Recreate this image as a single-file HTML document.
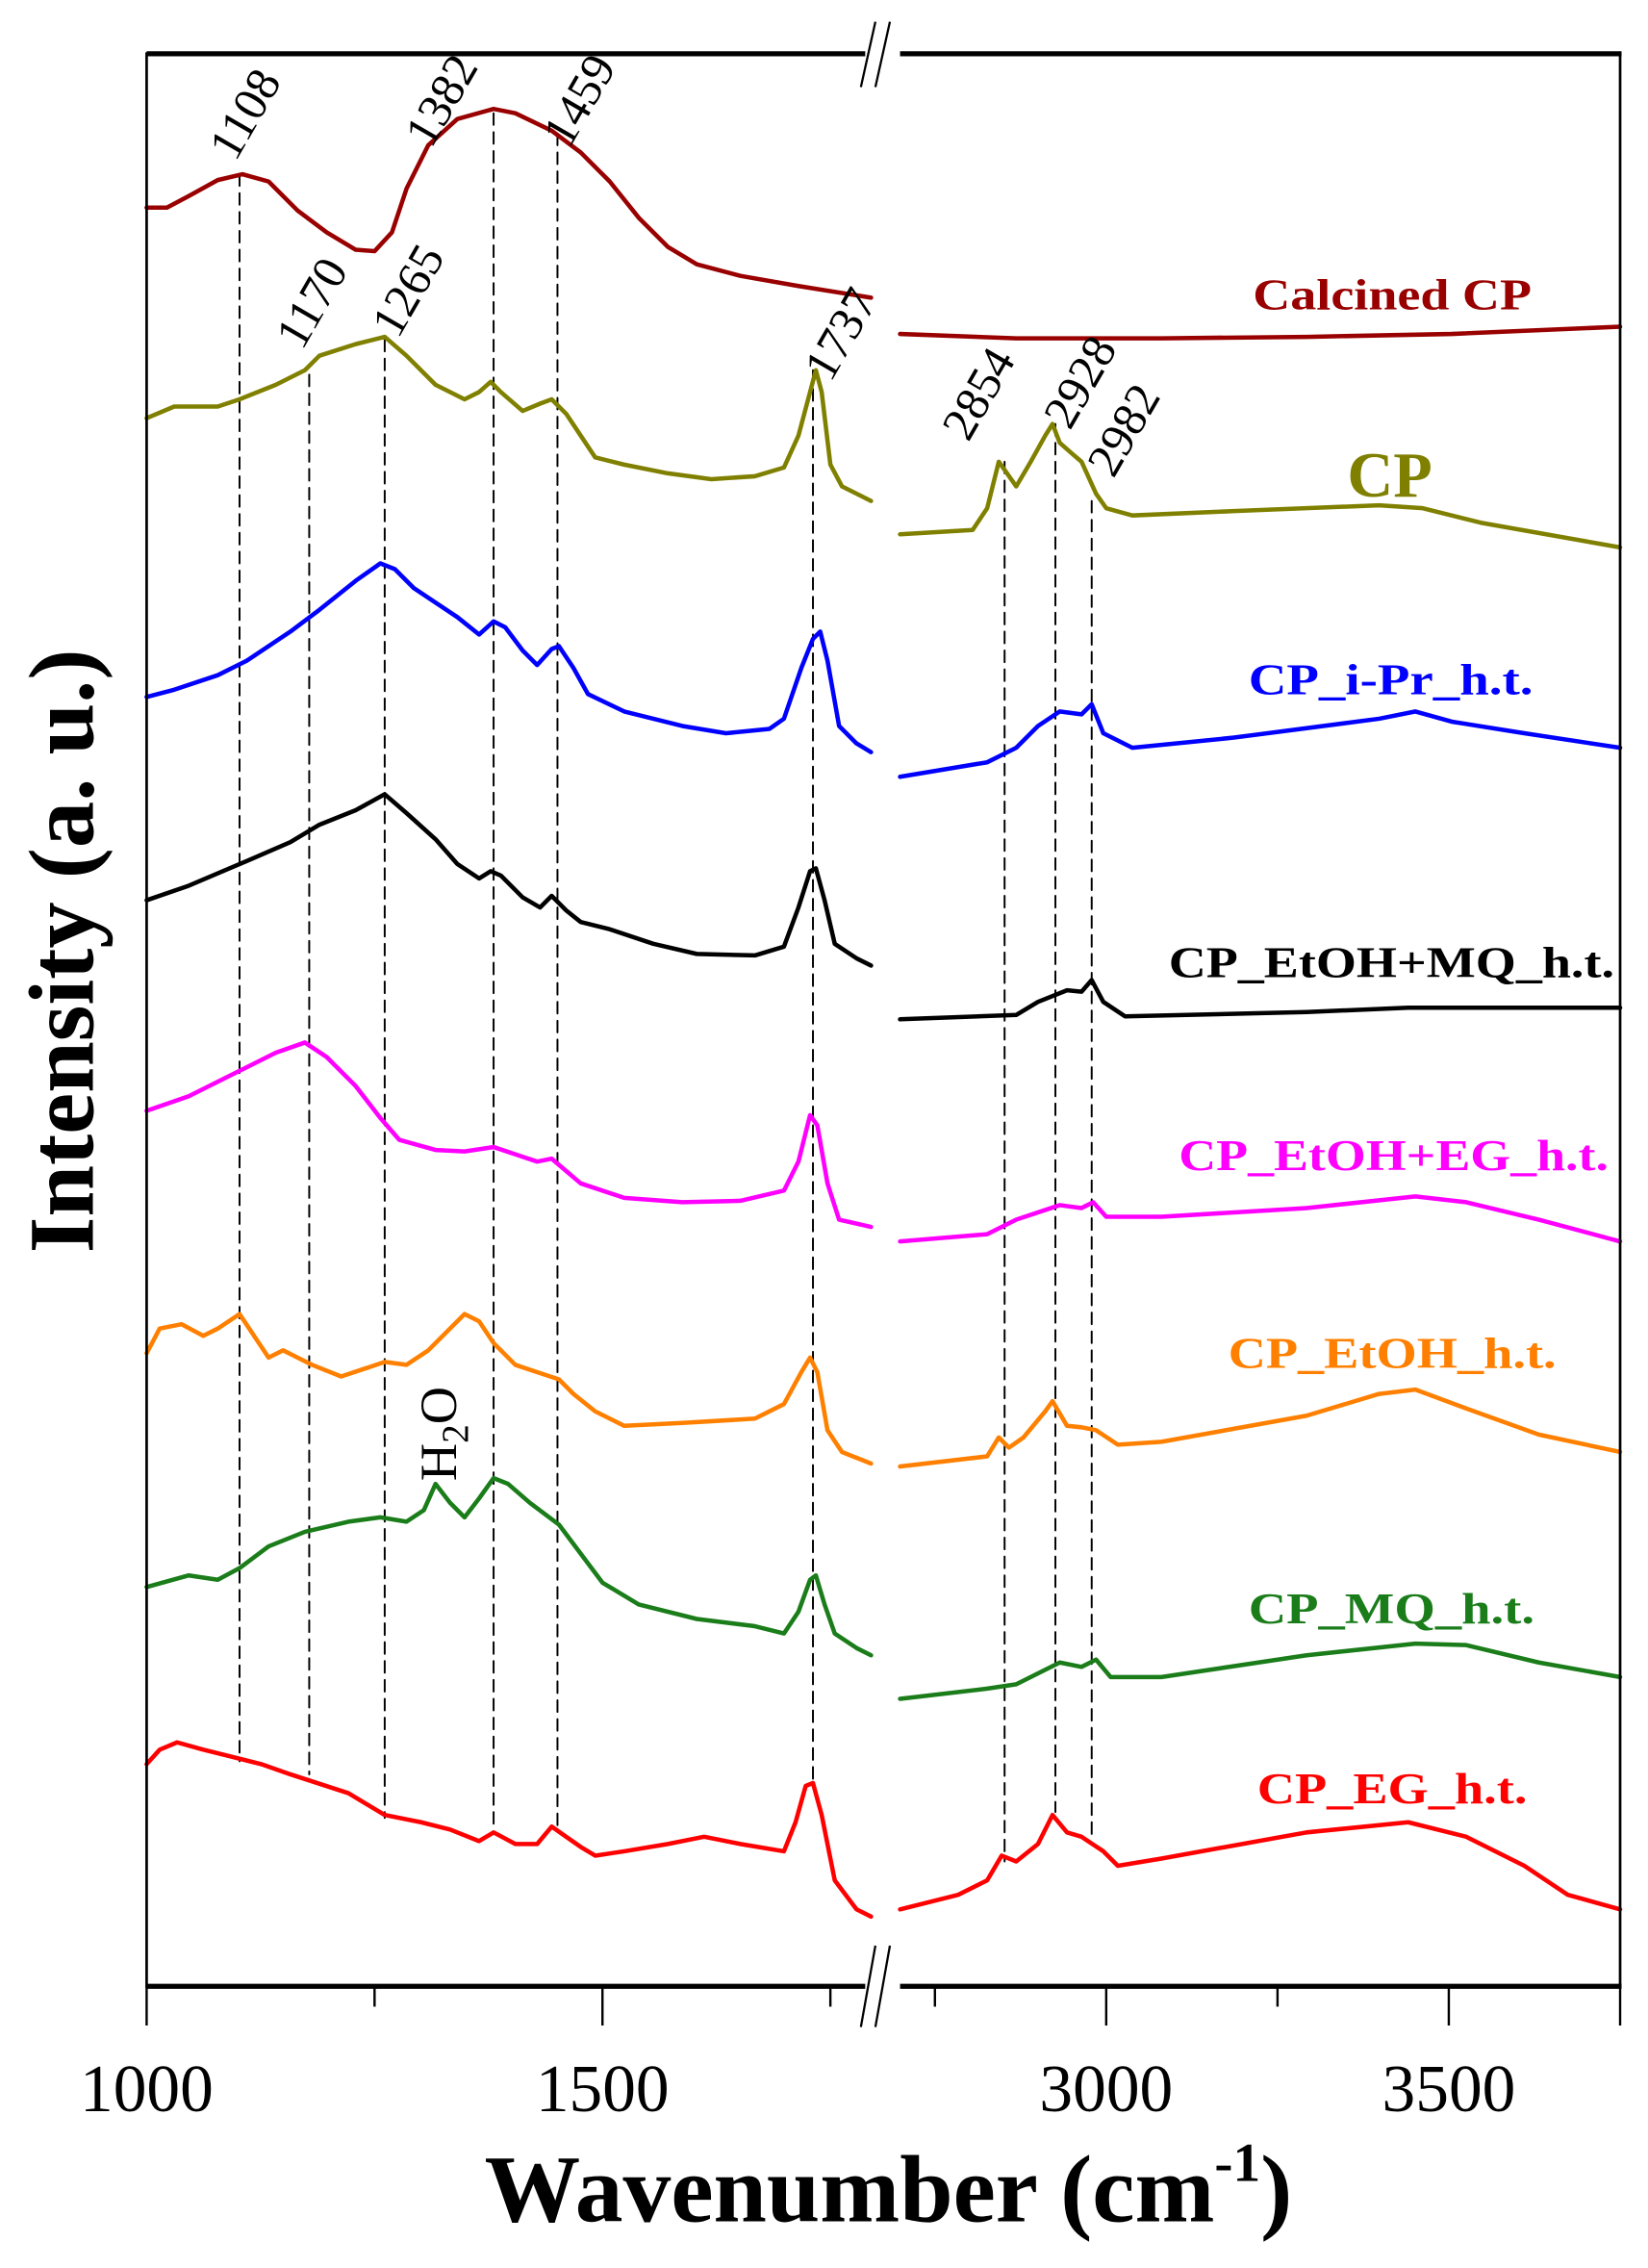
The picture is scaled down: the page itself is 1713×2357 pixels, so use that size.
<!DOCTYPE html>
<html><head><meta charset="utf-8"><style>html,body{margin:0;padding:0;background:#fff}svg{display:block}</style></head>
<body>
<svg xmlns="http://www.w3.org/2000/svg" width="1713" height="2357" viewBox="0 0 1135.2 1562">
<rect width="1135.2" height="1562" fill="#fff"/>
<g fill="none" stroke-width="3" stroke-linejoin="round" stroke-linecap="round">
<g stroke="#000" stroke-width="1.3" stroke-dasharray="8,5">
<line x1="165" y1="120" x2="165" y2="1213"/>
<line x1="213" y1="258" x2="213" y2="1222"/>
<line x1="265" y1="234" x2="265" y2="1252"/>
<line x1="340" y1="78" x2="340" y2="1260"/>
<line x1="384" y1="92" x2="384" y2="1262"/>
<line x1="560" y1="255" x2="560" y2="1225"/>
<line x1="692" y1="318" x2="692" y2="1282"/>
<line x1="727" y1="292" x2="727" y2="1248"/>
<line x1="752" y1="345" x2="752" y2="1268"/>
</g>
<g stroke="#990000">
<polyline points="101,143 115,143 130,135 150,124 167,120 185,125 205,145 225,160 245,172 258,173 270,160 280,130 295,100 315,82 340,75 355,78 380,90 400,105 420,125 440,150 460,170 480,182 510,190 550,197 600,205"/>
<polyline points="620,230 700,233 800,233 900,232 1000,230 1116,225"/>
</g>
<g stroke="#808000">
<polyline points="101,288 120,280 150,280 165,275 190,265 210,255 220,245 245,237 265,232 280,245 300,265 320,275 330,270 338,263 345,270 360,283 372,278 380,275 390,285 400,300 410,315 430,320 460,326 490,330 520,328 540,322 550,300 558,270 562,255 566,270 572,320 580,335 600,345"/>
<polyline points="620,368 670,365 680,350 688,318 693,325 700,335 710,318 720,300 725,292 730,305 738,312 745,318 755,340 762,350 780,355 850,352 950,348 980,350 1020,360 1116,377"/>
</g>
<g stroke="#0000ff">
<polyline points="101,480 120,475 150,465 170,455 200,435 220,420 245,400 262,388 272,392 285,405 300,415 315,425 330,437 340,428 348,432 360,448 370,458 380,447 385,445 395,460 405,478 430,490 470,500 500,505 530,502 540,495 552,460 560,440 565,435 570,455 578,500 590,512 600,518"/>
<polyline points="620,535 680,525 700,515 715,500 730,490 745,492 752,485 760,505 780,515 850,508 950,495 975,490 1000,497 1050,505 1116,515"/>
</g>
<g stroke="#000">
<polyline points="101,620 130,610 170,593 200,580 220,568 245,558 265,547 280,560 300,578 315,595 330,605 338,600 345,603 360,618 372,625 380,617 390,627 400,635 420,640 450,650 480,657 520,658 540,652 550,625 558,600 562,598 568,620 575,650 590,660 600,665"/>
<polyline points="620,702 700,699 715,690 735,682 745,683 752,675 760,690 775,700 900,697 970,694 1116,694"/>
</g>
<g stroke="#ff00ff">
<polyline points="101,765 130,755 160,740 190,725 210,718 225,728 245,748 262,770 275,785 300,792 320,793 340,790 355,795 370,800 380,798 400,815 430,825 470,828 510,827 540,820 550,800 558,768 563,775 570,815 578,840 600,845"/>
<polyline points="620,855 680,850 700,840 730,830 745,832 753,828 762,838 800,838 900,832 975,824 1010,828 1060,840 1116,855"/>
</g>
<g stroke="#ff8000">
<polyline points="101,932 110,915 125,912 140,920 150,915 165,905 175,920 185,935 195,930 205,935 215,940 235,948 250,943 265,938 280,940 295,930 310,915 320,905 330,910 340,925 355,940 370,945 385,950 395,960 410,972 430,982 470,980 520,977 540,967 552,945 558,935 563,945 570,985 580,1000 600,1008"/>
<polyline points="620,1010 680,1003 688,990 695,997 705,990 720,972 725,965 735,982 745,983 755,985 770,995 800,993 900,975 950,960 975,957 1010,970 1060,988 1116,1000"/>
</g>
<g stroke="#1a7d1a">
<polyline points="101,1093 130,1085 150,1088 165,1080 185,1065 210,1055 240,1048 262,1045 280,1048 292,1040 300,1022 310,1035 320,1045 330,1032 340,1018 350,1022 365,1035 385,1050 400,1070 415,1090 440,1105 480,1115 520,1120 540,1125 550,1110 558,1088 562,1085 568,1105 575,1125 590,1135 600,1140"/>
<polyline points="620,1170 680,1163 700,1160 730,1145 745,1148 755,1143 765,1155 800,1155 900,1140 975,1132 1010,1133 1060,1145 1116,1155"/>
</g>
<g stroke="#ff0000">
<polyline points="101,1215 110,1205 122,1200 140,1205 160,1210 180,1215 200,1222 240,1235 265,1250 290,1255 310,1260 330,1268 340,1262 355,1270 370,1270 380,1258 390,1265 400,1272 410,1278 430,1275 460,1270 485,1265 510,1270 540,1275 548,1255 555,1230 560,1228 566,1250 575,1295 590,1315 600,1320"/>
<polyline points="620,1315 660,1305 680,1295 690,1278 700,1282 715,1270 725,1250 735,1262 745,1265 760,1275 770,1285 800,1280 900,1262 970,1255 1010,1265 1050,1285 1080,1305 1116,1315"/>
</g>
</g>
<g stroke="#000" fill="none">
<line x1="101" y1="37" x2="1117" y2="37" stroke-width="3.5"/>
<line x1="101" y1="1368" x2="1117" y2="1368" stroke-width="3.5"/>
<line x1="101" y1="36" x2="101" y2="1369" stroke-width="1.8"/>
<line x1="1116" y1="36" x2="1116" y2="1369" stroke-width="1.8"/>
<g stroke-width="1.6">
<line x1="101" y1="1368" x2="101" y2="1395"/><line x1="415" y1="1368" x2="415" y2="1395"/>
<line x1="762" y1="1368" x2="762" y2="1395"/><line x1="998" y1="1368" x2="998" y2="1395"/>
<line x1="1116" y1="1368" x2="1116" y2="1395"/>
<line x1="258" y1="1368" x2="258" y2="1382"/><line x1="572" y1="1368" x2="572" y2="1382"/>
<line x1="644" y1="1368" x2="644" y2="1382"/><line x1="880" y1="1368" x2="880" y2="1382"/>
</g>
</g>
<rect x="596" y="30" width="24" height="14" fill="#fff"/>
<rect x="596" y="1361" width="24" height="14" fill="#fff"/>
<g stroke="#000" stroke-width="1.5">
<line x1="593" y1="60" x2="603" y2="15"/><line x1="603" y1="60" x2="613" y2="15"/>
<line x1="593" y1="1396" x2="603" y2="1340"/><line x1="603" y1="1396" x2="613" y2="1340"/>
</g>
<g font-family="Liberation Serif, serif" fill="#000">
<g font-size="46" text-anchor="middle">
<text x="101" y="1454">1000</text><text x="415" y="1454">1500</text>
<text x="762" y="1454">3000</text><text x="998" y="1454">3500</text>
</g>
<text x="612" y="1530" font-size="66" font-weight="bold" text-anchor="middle">Wavenumber (cm<tspan font-size="38" dy="-28">-1</tspan><tspan dy="28">)</tspan></text>
<text transform="translate(64,655) rotate(-90)" font-size="64" font-weight="bold" text-anchor="middle">Intensity (a. u.)</text>
<g font-size="33">
<text transform="translate(162,112) rotate(-60)">1108</text>
<text transform="translate(297,103) rotate(-60)">1382</text>
<text transform="translate(392,103) rotate(-60)">1459</text>
<text transform="translate(208,242) rotate(-60)">1170</text>
<text transform="translate(274,234) rotate(-60)">1265</text>
<text transform="translate(572,264) rotate(-60)">1737</text>
<text transform="translate(667,305) rotate(-60)">2854</text>
<text transform="translate(737,297) rotate(-60)">2928</text>
<text transform="translate(767,330) rotate(-60)">2982</text>
</g>
<text transform="translate(314,1020) rotate(-90)" font-size="36">H<tspan font-size="26" dy="8">2</tspan><tspan dy="-8">O</tspan></text>
<g font-weight="bold" font-size="30">
<text x="863" y="213" fill="#990000" textLength="192" lengthAdjust="spacingAndGlyphs">Calcined CP</text>
<text x="928" y="342" fill="#808000" font-size="44">CP</text>
<text x="860" y="478" fill="#0000ff" textLength="196" lengthAdjust="spacingAndGlyphs">CP_i-Pr_h.t.</text>
<text x="805" y="673" fill="#000" textLength="307" lengthAdjust="spacingAndGlyphs">CP_EtOH+MQ_h.t.</text>
<text x="812" y="806" fill="#ff00ff" textLength="296" lengthAdjust="spacingAndGlyphs">CP_EtOH+EG_h.t.</text>
<text x="846" y="942" fill="#ff8000" textLength="226" lengthAdjust="spacingAndGlyphs">CP_EtOH_h.t.</text>
<text x="860" y="1118" fill="#1a7d1a" textLength="197" lengthAdjust="spacingAndGlyphs">CP_MQ_h.t.</text>
<text x="866" y="1242" fill="#ff0000" textLength="186" lengthAdjust="spacingAndGlyphs">CP_EG_h.t.</text>
</g>
</g>
</svg>
</body></html>
